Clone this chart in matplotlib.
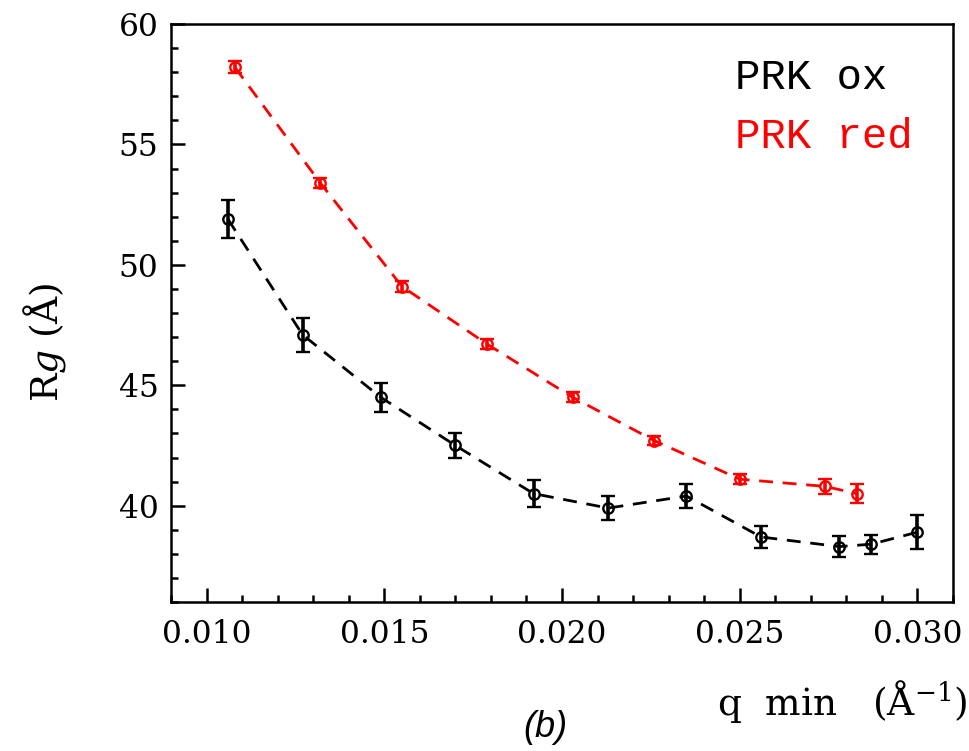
import matplotlib
matplotlib.use("Agg")
import matplotlib.pyplot as plt
from matplotlib.ticker import MultipleLocator, FormatStrFormatter

# Data
q_ox = [0.0106, 0.0127, 0.0149, 0.0170, 0.0192, 0.0213, 0.0235, 0.0256, 0.0278, 0.0287, 0.0300]
rg_ox = [51.9, 47.1, 44.5, 42.5, 40.5, 39.9, 40.4, 38.7, 38.3, 38.4, 38.9]
err_ox = [0.8, 0.7, 0.6, 0.5, 0.55, 0.5, 0.5, 0.45, 0.43, 0.4, 0.7]

q_red = [0.0108, 0.0132, 0.0155, 0.0179, 0.0203, 0.0226, 0.0250, 0.0274, 0.0283]
rg_red = [58.2, 53.4, 49.1, 46.7, 44.5, 42.7, 41.1, 40.8, 40.5]
err_red = [0.25, 0.22, 0.22, 0.2, 0.2, 0.2, 0.22, 0.3, 0.4]

labels = ["PRK ox", "PRK red"]
colors = ["black", "#ff0000"]

plt.rcParams['mathtext.fontset'] = 'dejavuserif'

fig = plt.figure(figsize=(9.7, 7.51), dpi=100)
ax = fig.add_axes([171/970, 1-602/751, (953-171)/970, (602-24)/751])

for q, rg, e, c in [(q_ox, rg_ox, err_ox, colors[0]), (q_red, rg_red, err_red, colors[1])]:
    ax.plot(q, rg, ls=(0, (5, 3.5)), color=c, lw=2.0, zorder=2)
    ax.errorbar(q, rg, yerr=e, fmt='o', ms=7.5, mfc='none', mec=c, mew=1.7,
                ecolor=c, elinewidth=2.6, capsize=4.8, capthick=2.6, zorder=3)

ax.set_xlim(0.009, 0.031)
ax.set_ylim(36, 60)
ax.xaxis.set_major_locator(MultipleLocator(0.005))
ax.xaxis.set_minor_locator(MultipleLocator(0.001))
ax.yaxis.set_major_locator(MultipleLocator(5))
ax.yaxis.set_minor_locator(MultipleLocator(1))
ax.xaxis.set_major_formatter(FormatStrFormatter('%.3f'))
ax.yaxis.set_major_formatter(FormatStrFormatter('%d'))
ax.tick_params(which='both', direction='in', top=False, right=False, width=1.8)
ax.tick_params(which='major', length=10)
ax.tick_params(which='minor', length=5)
ax.tick_params(axis='y', which='major', pad=9)
ax.tick_params(axis='x', which='major', pad=12)
for lab in ax.get_xticklabels() + ax.get_yticklabels():
    lab.set_fontfamily('DejaVu Serif')
    lab.set_fontsize(22.5)
for s in ax.spines.values():
    s.set_linewidth(1.8)

ax.text(735/970, 1-89/751, labels[0], transform=fig.transFigure, color=colors[0],
        fontfamily='Liberation Mono', fontsize=30.5, va='baseline', ha='left')
ax.text(735/970, 1-148/751, labels[1], transform=fig.transFigure, color=colors[1],
        fontfamily='Liberation Mono', fontsize=30.5, va='baseline', ha='left')

fig.text(45/970, 1-342/751, r"R$g$ (Å)", rotation=90, ha='center', va='center',
         fontfamily='DejaVu Serif', fontsize=27)
fig.text(968/970, 1-715/751, r"q  min   (Å$^{-1}$)", ha='right', va='baseline',
         fontfamily='DejaVu Serif', fontsize=27)
fig.text(545/970, 1-737/751, "(b)", ha='center', va='baseline',
         fontfamily='Liberation Sans', fontstyle='italic', fontsize=26)

fig.savefig("out.png", dpi=100, facecolor='white')
